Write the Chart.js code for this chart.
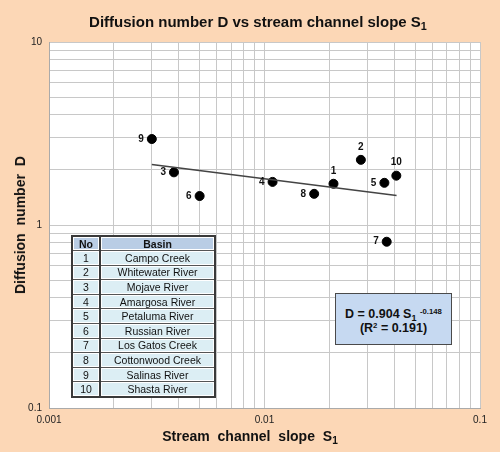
<!DOCTYPE html>
<html>
<head>
<meta charset="utf-8">
<script src="https://cdn.jsdelivr.net/npm/chart.js@4.4.1/dist/chart.umd.min.js"></script>
<style>
  html, body { margin: 0; padding: 0; background: #FCD7B6; }
  #wrap { position: relative; width: 500px; height: 452px; background: #FCD7B6;
          font-family: "Liberation Sans", Arial, sans-serif; color: #111; }
  #chart { position: absolute; left: 0; top: 0; }
  .title { position: absolute; left: 0; width: 516px; top: 13px; text-align: center;
           font-weight: bold; font-size: 15px; }
  .xtitle { position: absolute; left: 0; width: 500px; top: 428px; text-align: center;
            font-weight: bold; font-size: 14px; word-spacing: 4px; }
  .ytitle { position: absolute; left: 20px; top: 225px; transform: translate(-50%, -50%) rotate(-90deg);
            white-space: nowrap; font-weight: bold; font-size: 14px; word-spacing: 4px; }
  sub { font-size: 0.72em; vertical-align: -0.3em; line-height: 0; }
  sup { font-size: 0.62em; vertical-align: 0.55em; line-height: 0; }
  #basins { position: absolute; left: 71px; top: 235px; width: 145px; border-collapse: collapse;
            border: 2px solid #3a3a3a; font-size: 10.5px; }
  #basins tr { height: 14.6px; }
  #basins th, #basins td { padding: 0; text-align: center; background: #DCEEF4;
            border-bottom: 1px solid #555; box-shadow: inset 0 0 0 1px #fff; }
  #basins th { background: #B9CDE5; font-weight: bold; }
  #basins .no { width: 26px; border-right: 2px solid #3a3a3a; }
  #eq { position: absolute; left: 335px; top: 293px; width: 117px; height: 52px;
        background: #C6D9F1; border: 1.5px solid #4a4a4a; text-align: center;
        font-weight: bold; font-size: 12.5px; line-height: 14px; padding-top: 13px; box-sizing: border-box; }
</style>
</head>
<body>
<div id="wrap">
  <canvas id="chart" width="500" height="452"></canvas>
  <div class="title">Diffusion number D vs stream channel slope S<sub>1</sub></div>
  <div class="xtitle">Stream channel slope S<sub>1</sub></div>
  <div class="ytitle">Diffusion number D</div>
  <table id="basins"></table>
  <div id="eq">D = 0.904 S<sub>1</sub> <sup>-0.148</sup><br>(R<sup>2</sup> = 0.191)</div>
</div>
<script>
// basins, numbered as in the picture
const BASIN_NO = [1, 2, 3, 4, 5, 6, 7, 8, 9, 10];
const BASIN_NAMES = ["Campo Creek", "Whitewater River", "Mojave River", "Amargosa River",
  "Petaluma River", "Russian River", "Los Gatos Creek", "Cottonwood Creek",
  "Salinas River", "Shasta River"];

const SLOPE     = [0.0209, 0.0280, 0.0038, 0.0109, 0.0360, 0.0050, 0.0369, 0.0170, 0.0030, 0.0409];
const DIFFUSION = [1.68, 2.27, 1.94, 1.72, 1.70, 1.44, 0.81, 1.48, 2.95, 1.86];

// power-law fit end points
const FIT_SLOPE = [0.003, 0.041];
const FIT_D     = [2.14, 1.45];

const X_TICKS = [0.001, 0.002, 0.003, 0.004, 0.005, 0.006, 0.007, 0.008, 0.009,
  0.01, 0.02, 0.03, 0.04, 0.05, 0.06, 0.07, 0.08, 0.09, 0.1];
const Y_TICKS = [0.1, 0.2, 0.3, 0.4, 0.5, 0.6, 0.7, 0.8, 0.9,
  1, 2, 3, 4, 5, 6, 7, 8, 9, 10];
const X_LABELED = [0.001, 0.01, 0.1];
const Y_LABELED = [0.1, 1, 10];

// where each point number sits relative to its dot
const LABEL_SIDE = ["above", "above", "left", "left", "left", "left", "left", "left", "left", "above"];

const FONT = "'Liberation Sans', Arial, sans-serif";
const GRID = "#c8c8c8";

// basin table
const tbl = document.getElementById("basins");
tbl.innerHTML = `<tr><th class="no">No</th><th>Basin</th></tr>` +
  BASIN_NO.map((n, i) => `<tr><td class="no">${n}</td><td>${BASIN_NAMES[i]}</td></tr>`).join("");

const plotBg = {
  id: "plotBg",
  beforeDraw(chart) {
    const { ctx, chartArea: a } = chart;
    ctx.save();
    ctx.fillStyle = "#ffffff";
    ctx.fillRect(a.left, a.top, a.right - a.left, a.bottom - a.top);
    ctx.restore();
  }
};

const pointNumbers = {
  id: "pointNumbers",
  afterDatasetsDraw(chart) {
    const { ctx } = chart;
    const meta = chart.getDatasetMeta(1);
    ctx.save();
    ctx.font = "bold 10px " + FONT;
    ctx.fillStyle = "#111";
    meta.data.forEach((pt, i) => {
      const txt = String(BASIN_NO[i]);
      if (LABEL_SIDE[i] === "above") {
        ctx.textAlign = "center";
        ctx.textBaseline = "middle";
        ctx.fillText(txt, pt.x, pt.y - 13);
      } else {
        ctx.textAlign = "right";
        ctx.textBaseline = "middle";
        ctx.fillText(txt, pt.x - 8, pt.y);
      }
    });
    ctx.restore();
  }
};

new Chart(document.getElementById("chart"), {
  type: "scatter",
  data: {
    datasets: [
      {
        type: "line",
        data: FIT_SLOPE.map((x, i) => ({ x, y: FIT_D[i] })),
        borderColor: "#444",
        borderWidth: 1.5,
        pointRadius: 0,
        fill: false,
      },
      {
        data: SLOPE.map((x, i) => ({ x, y: DIFFUSION[i] })),
        backgroundColor: "#000",
        borderColor: "#000",
        pointRadius: 4.5,
      }
    ]
  },
  options: {
    responsive: false,
    animation: false,
    layout: { padding: { left: 0, top: 42, right: 20, bottom: 0 } },
    plugins: { legend: { display: false }, tooltip: { enabled: false } },
    scales: {
      x: {
        type: "logarithmic",
        min: 0.001, max: 0.1,
        afterBuildTicks: s => { s.ticks = X_TICKS.map(v => ({ value: v })); },
        afterFit: s => { s.height = 44; },
        grid: { color: GRID, lineWidth: 1, drawTicks: false },
        border: { color: "#aaa" },
        ticks: {
          autoSkip: false, maxRotation: 0, padding: 6,
          color: "#222", font: { family: FONT, size: 10 },
          callback: v => X_LABELED.includes(v) ? String(v) : ""
        }
      },
      y: {
        type: "logarithmic",
        min: 0.1, max: 10,
        afterBuildTicks: s => { s.ticks = Y_TICKS.map(v => ({ value: v })); },
        afterFit: s => { s.width = 49; },
        grid: { color: GRID, lineWidth: 1, drawTicks: false },
        border: { color: "#aaa" },
        ticks: {
          autoSkip: false, padding: 7,
          color: "#222", font: { family: FONT, size: 10 },
          callback: v => Y_LABELED.includes(v) ? String(v) : ""
        }
      }
    }
  },
  plugins: [plotBg, pointNumbers]
});
</script>
</body>
</html>
